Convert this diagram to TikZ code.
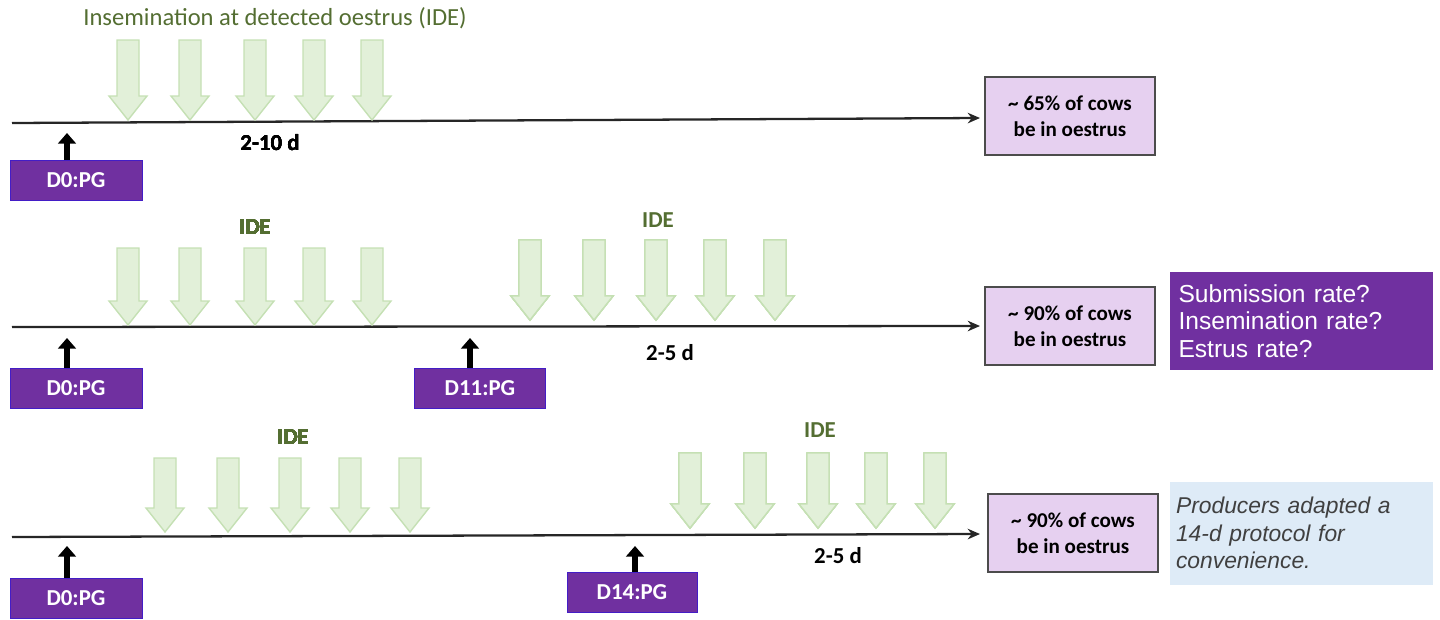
\documentclass[tikz,border=0pt]{standalone}
\usepackage{fontspec}
\setmainfont{Carlito}
\newfontfamily\arialfont{Liberation Sans}
\usetikzlibrary{arrows.meta, calc}
\definecolor{idegreen}{RGB}{226,240,217}
\definecolor{ideedge}{RGB}{197,224,180}
\definecolor{pgpurple}{RGB}{112,48,160}
\definecolor{reslilac}{RGB}{230,208,240}
\definecolor{noteblue}{RGB}{222,235,247}
\definecolor{titlegreen}{RGB}{84,110,50}
\tikzset{
    my-ide-arrow/.style={
        draw=ideedge, fill=idegreen, line width=0.8pt, line join=miter
    },
    my-pg-box/.style={
        draw=pgpurple!60!blue, fill=pgpurple, text=white, font=\bfseries\fontsize{13}{15}\selectfont,
        minimum width=132*0.02cm, minimum height=40*0.02cm, inner sep=0pt
    },
    my-result-box/.style={
        draw=black!70, thick, fill=reslilac, font=\bfseries\fontsize{12}{15}\selectfont,
        minimum width=170*0.02cm, minimum height=78*0.02cm, align=center, inner sep=0pt
    },
    my-timeline/.style={line width=1.3pt, black!85, -{Stealth[length=7pt, width=6pt]}},
    my-pg-arrow/.style={line width=3pt, -{Triangle[length=6pt, width=10pt]}},
    my-label/.style={font=\bfseries\fontsize{13}{15}\selectfont},
}
% green down arrow: tip at (#1,#2), top at #3
\newcommand{\idearrow}[3]{%
    \fill[my-ide-arrow] (#1-11,#3) -- (#1+11,#3) -- (#1+11,#2-24) -- (#1+19,#2-24)
        -- (#1,#2) -- (#1-19,#2-24) -- (#1-11,#2-24) -- cycle;}
\begin{document}
\begin{tikzpicture}[x=0.02cm, y=-0.02cm]
        \useasboundingbox (0,0) rectangle (1440,619);

        % ROW 1 ---------------------------------------------------------------------------------------
        \coordinate (L1S) at (12,123);
        \coordinate (L1E) at (980,118);
        \draw[my-timeline] (L1S) -- (L1E);
        \node[titlegreen, font=\fontsize{14}{16}\selectfont] (TITLE) at (275,18) {Insemination at detected oestrus (IDE)};
        \foreach \x in {128,190,255,314,372}
            \idearrow{\x}{120}{40}
        \node[my-label] (DAYS1) at (270,143) {2-10 d};
        \node[my-pg-box] (PGA) at (76,180) {D0:PG};
        \draw[my-pg-arrow] (PGA.north -| 67,0) -- (67,133);
        \node[my-result-box] (RES1) at (1070,116) {\textasciitilde{} 65\% of cows\\be in oestrus};

        % ROW 2 ---------------------------------------------------------------------------------------
        \coordinate (L2S) at (12,327);
        \coordinate (L2E) at (980,326);
        \draw[my-timeline] (L2S) -- (L2E);
        \foreach \x in {128,190,255,314,372}
            \idearrow{\x}{325}{248}
        \foreach \x in {530,594,656,715,775}
            \idearrow{\x}{320}{240}
        \node[my-label, titlegreen] (IDEB) at (255,227) {IDE};
        \node[my-label, titlegreen] (IDEC) at (658,220) {IDE};
        \node[my-label] (DAYS2) at (670,353) {2-5 d};
        \node[my-pg-box] (PGB) at (76,388) {D0:PG};
        \node[my-pg-box, minimum width=131*0.02cm] (PGC) at (480,388) {D11:PG};
        \draw[my-pg-arrow] (PGB.north -| 67,0) -- (67,338);
        \draw[my-pg-arrow] (PGC.north -| 470,0) -- (470,338);
        \node[my-result-box] (RES2) at (1070,326) {\textasciitilde{} 90\% of cows\\be in oestrus};
        \node[fill=pgpurple, text=white, font=\arialfont\fontsize{14}{15.5}\selectfont, minimum width=263*0.02cm,
              minimum height=98*0.02cm, align=left, text width=245*0.02cm] (QUEST) at (1301,321)
              {Submission rate?\\Insemination rate?\\Estrus rate?};

        % ROW 3 ---------------------------------------------------------------------------------------
        \coordinate (L3S) at (12,537);
        \coordinate (L3E) at (980,534);
        \draw[my-timeline] (L3S) -- (L3E);
        \foreach \x in {165,228,290,350,410}
            \idearrow{\x}{532}{458}
        \foreach \x in {690,755,818,876,935}
            \idearrow{\x}{528}{453}
        \node[my-label, titlegreen] (IDED) at (293,437) {IDE};
        \node[my-label, titlegreen] (IDEE) at (820,430) {IDE};
        \node[my-label] (DAYS3) at (838,556) {2-5 d};
        \node[my-pg-box] (PGD) at (76,598) {D0:PG};
        \node[my-pg-box, minimum width=130*0.02cm] (PGE) at (632,592) {D14:PG};
        \draw[my-pg-arrow] (PGD.north -| 67,0) -- (67,546);
        \draw[my-pg-arrow] (PGE.north -| 635,0) -- (635,546);
        \node[my-result-box] (RES3) at (1073,533) {\textasciitilde{} 90\% of cows\\be in oestrus};
        \node[fill=noteblue, text=black!75, font=\arialfont\itshape\fontsize{13}{15.5}\selectfont, minimum width=263*0.02cm,
              minimum height=103*0.02cm, align=left, text width=250*0.02cm] (NOTE) at (1301,533)
              {Producers adapted a\\14-d protocol for\\convenience.};

\end{tikzpicture}
\end{document}
